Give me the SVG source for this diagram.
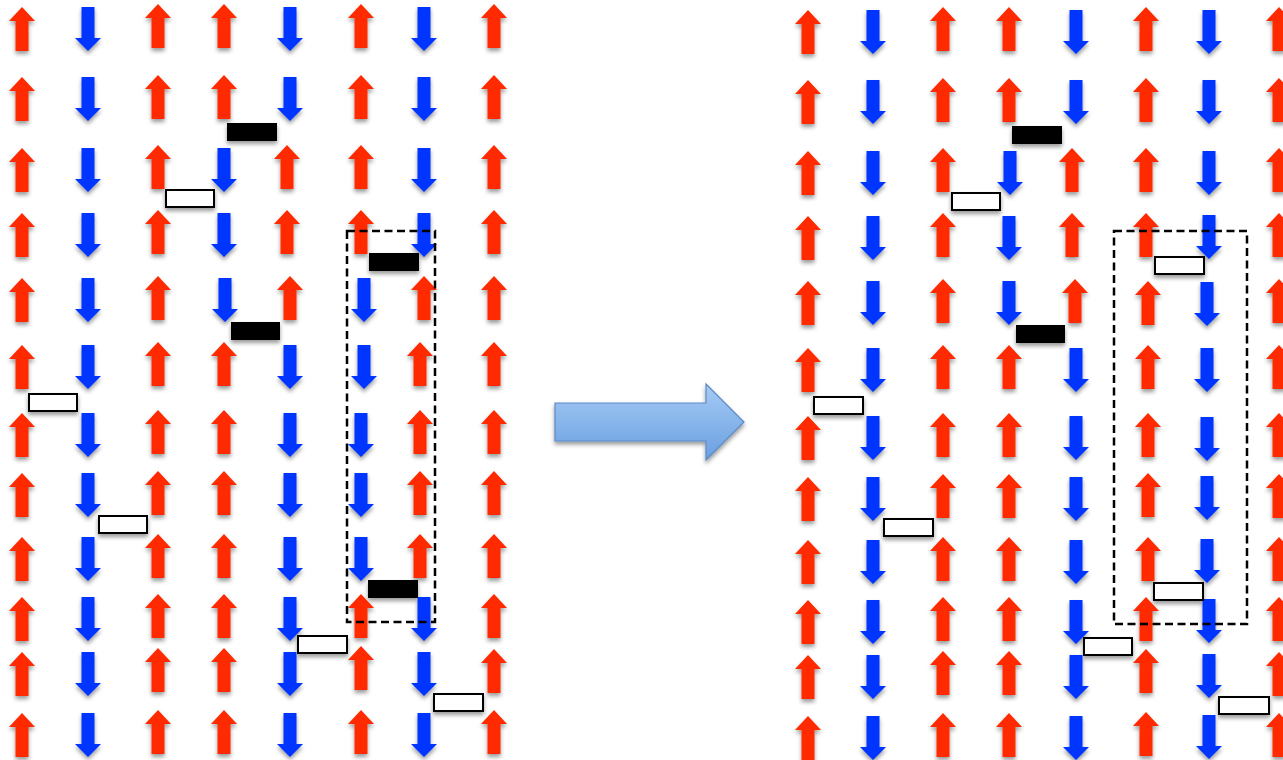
<svg xmlns="http://www.w3.org/2000/svg" xmlns:xlink="http://www.w3.org/1999/xlink" width="1283" height="760" viewBox="0 0 1283 760">
<style>
.u{fill:#ff2a00}
.d{fill:#0535ff}
.bar{fill:#000}
.open{fill:#fff;stroke:#000;stroke-width:2}
.box{fill:none;stroke:#000;stroke-width:2.5;stroke-dasharray:8 4.5}
</style>
<defs>
<filter id="sh" x="-20%" y="-20%" width="140%" height="150%">
<feDropShadow dx="0" dy="3" stdDeviation="2" flood-color="#000" flood-opacity="0.4"/>
</filter>
<path id="u" class="u" d="M0,0 L13,14 L6.5,14 L6.5,44 L-6.5,44 L-6.5,14 L-13,14 Z"/>
<path id="d" class="d" d="M-6.5,0 L6.5,0 L6.5,31 L13,31 L0,44 L-13,31 L-6.5,31 Z"/>
<linearGradient id="bg" x1="0" y1="0" x2="0" y2="1">
<stop offset="0" stop-color="#a6cbf5"/>
<stop offset="1" stop-color="#6a9fe0"/>
</linearGradient>
</defs>
<rect width="1283" height="760" fill="#fff"/>
<g id="left-panel" filter="url(#sh)">
<use href="#u" x="22" y="7"/><use href="#d" x="88" y="7"/><use href="#u" x="158" y="4"/><use href="#u" x="224" y="4"/><use href="#d" x="290" y="7"/><use href="#u" x="361" y="4"/><use href="#d" x="424" y="7"/><use href="#u" x="494" y="4"/>
<use href="#u" x="22" y="77"/><use href="#d" x="88" y="77"/><use href="#u" x="158" y="75"/><use href="#u" x="224" y="75"/><use href="#d" x="290" y="77"/><use href="#u" x="361" y="75"/><use href="#d" x="424" y="77"/><use href="#u" x="494" y="75"/>
<use href="#u" x="22" y="148"/><use href="#d" x="88" y="148"/><use href="#u" x="158" y="145"/><use href="#d" x="224" y="148"/><use href="#u" x="287" y="145"/><use href="#u" x="361" y="145"/><use href="#d" x="424" y="148"/><use href="#u" x="494" y="145"/>
<use href="#u" x="22" y="213"/><use href="#d" x="88" y="213"/><use href="#u" x="158" y="210"/><use href="#d" x="224" y="213"/><use href="#u" x="287" y="210"/><use href="#u" x="361" y="210"/><use href="#d" x="424" y="213"/><use href="#u" x="494" y="210"/>
<use href="#u" x="22" y="278"/><use href="#d" x="88" y="278"/><use href="#u" x="158" y="276"/><use href="#d" x="225" y="278"/><use href="#u" x="290" y="276"/><use href="#d" x="364" y="278"/><use href="#u" x="424" y="276"/><use href="#u" x="494" y="276"/>
<use href="#u" x="22" y="345"/><use href="#d" x="88" y="345"/><use href="#u" x="158" y="342"/><use href="#u" x="224" y="342"/><use href="#d" x="290" y="345"/><use href="#d" x="364" y="345"/><use href="#u" x="420" y="342"/><use href="#u" x="494" y="342"/>
<use href="#u" x="22" y="413"/><use href="#d" x="88" y="413"/><use href="#u" x="158" y="410"/><use href="#u" x="224" y="410"/><use href="#d" x="290" y="413"/><use href="#d" x="361" y="413"/><use href="#u" x="420" y="410"/><use href="#u" x="494" y="410"/>
<use href="#u" x="22" y="473"/><use href="#d" x="88" y="473"/><use href="#u" x="158" y="471"/><use href="#u" x="224" y="471"/><use href="#d" x="290" y="473"/><use href="#d" x="361" y="473"/><use href="#u" x="420" y="471"/><use href="#u" x="494" y="471"/>
<use href="#u" x="22" y="537"/><use href="#d" x="88" y="537"/><use href="#u" x="158" y="534"/><use href="#u" x="224" y="534"/><use href="#d" x="290" y="537"/><use href="#d" x="361" y="537"/><use href="#u" x="420" y="534"/><use href="#u" x="494" y="534"/>
<use href="#u" x="22" y="597"/><use href="#d" x="88" y="597"/><use href="#u" x="158" y="594"/><use href="#u" x="224" y="594"/><use href="#d" x="290" y="597"/><use href="#u" x="361" y="594"/><use href="#d" x="424" y="597"/><use href="#u" x="494" y="594"/>
<use href="#u" x="22" y="652"/><use href="#d" x="88" y="652"/><use href="#u" x="158" y="648"/><use href="#u" x="224" y="648"/><use href="#d" x="290" y="652"/><use href="#u" x="361" y="646"/><use href="#d" x="424" y="652"/><use href="#u" x="494" y="649"/>
<use href="#u" x="22" y="713"/><use href="#d" x="88" y="713"/><use href="#u" x="158" y="710"/><use href="#u" x="224" y="710"/><use href="#d" x="290" y="713"/><use href="#u" x="361" y="710"/><use href="#d" x="424" y="713"/><use href="#u" x="494" y="710"/>
<rect class="bar" x="227" y="123" width="50" height="18"/>
<rect class="bar" x="369" y="253" width="50" height="18"/>
<rect class="bar" x="231" y="322" width="49" height="18"/>
<rect class="bar" x="368" y="580" width="50" height="18"/>
<rect class="open" x="166" y="190" width="48" height="17"/>
<rect class="open" x="29" y="394" width="48" height="17"/>
<rect class="open" x="99" y="516" width="48" height="17"/>
<rect class="open" x="298" y="636" width="49" height="17"/>
<rect class="open" x="434" y="694" width="49" height="17"/>
</g>
<rect id="left-box" class="box" x="347" y="231" width="88" height="391"/>
<g id="transition-arrow" filter="url(#sh)">
<polygon points="555,403 706,403 706,384 744,422 706,460 706,441 555,441" fill="url(#bg)" stroke="#5a8ac6" stroke-width="1.2"/>
</g>
<g id="right-panel" filter="url(#sh)">
<use href="#u" x="808" y="10"/><use href="#d" x="873" y="10"/><use href="#u" x="943" y="7"/><use href="#u" x="1009" y="7"/><use href="#d" x="1076" y="10"/><use href="#u" x="1146" y="7"/><use href="#d" x="1209" y="10"/><use href="#u" x="1279" y="7"/>
<use href="#u" x="808" y="80"/><use href="#d" x="873" y="80"/><use href="#u" x="943" y="78"/><use href="#u" x="1009" y="78"/><use href="#d" x="1076" y="80"/><use href="#u" x="1146" y="78"/><use href="#d" x="1209" y="80"/><use href="#u" x="1279" y="78"/>
<use href="#u" x="808" y="151"/><use href="#d" x="873" y="151"/><use href="#u" x="943" y="148"/><use href="#d" x="1010" y="151"/><use href="#u" x="1072" y="148"/><use href="#u" x="1146" y="148"/><use href="#d" x="1209" y="151"/><use href="#u" x="1279" y="148"/>
<use href="#u" x="808" y="216"/><use href="#d" x="873" y="216"/><use href="#u" x="943" y="213"/><use href="#d" x="1009" y="216"/><use href="#u" x="1072" y="213"/><use href="#u" x="1146" y="213"/><use href="#d" x="1209" y="215"/><use href="#u" x="1279" y="213"/>
<use href="#u" x="808" y="281"/><use href="#d" x="873" y="281"/><use href="#u" x="943" y="279"/><use href="#d" x="1009" y="281"/><use href="#u" x="1075" y="279"/><use href="#u" x="1148" y="281"/><use href="#d" x="1207" y="282"/><use href="#u" x="1279" y="279"/>
<use href="#u" x="808" y="348"/><use href="#d" x="873" y="348"/><use href="#u" x="943" y="345"/><use href="#u" x="1009" y="345"/><use href="#d" x="1076" y="348"/><use href="#u" x="1148" y="345"/><use href="#d" x="1207" y="348"/><use href="#u" x="1279" y="345"/>
<use href="#u" x="808" y="416"/><use href="#d" x="873" y="416"/><use href="#u" x="943" y="413"/><use href="#u" x="1009" y="413"/><use href="#d" x="1076" y="416"/><use href="#u" x="1148" y="413"/><use href="#d" x="1207" y="417"/><use href="#u" x="1279" y="413"/>
<use href="#u" x="808" y="477"/><use href="#d" x="873" y="477"/><use href="#u" x="943" y="474"/><use href="#u" x="1009" y="474"/><use href="#d" x="1076" y="477"/><use href="#u" x="1148" y="473"/><use href="#d" x="1207" y="476"/><use href="#u" x="1279" y="474"/>
<use href="#u" x="808" y="540"/><use href="#d" x="873" y="540"/><use href="#u" x="943" y="537"/><use href="#u" x="1009" y="537"/><use href="#d" x="1076" y="540"/><use href="#u" x="1148" y="537"/><use href="#d" x="1207" y="539"/><use href="#u" x="1279" y="537"/>
<use href="#u" x="808" y="600"/><use href="#d" x="873" y="600"/><use href="#u" x="943" y="597"/><use href="#u" x="1009" y="597"/><use href="#d" x="1076" y="600"/><use href="#u" x="1146" y="597"/><use href="#d" x="1209" y="599"/><use href="#u" x="1279" y="597"/>
<use href="#u" x="808" y="655"/><use href="#d" x="873" y="655"/><use href="#u" x="943" y="651"/><use href="#u" x="1009" y="651"/><use href="#d" x="1076" y="655"/><use href="#u" x="1146" y="649"/><use href="#d" x="1209" y="654"/><use href="#u" x="1279" y="652"/>
<use href="#u" x="808" y="716"/><use href="#d" x="873" y="716"/><use href="#u" x="943" y="713"/><use href="#u" x="1009" y="713"/><use href="#d" x="1076" y="716"/><use href="#u" x="1146" y="712"/><use href="#d" x="1209" y="715"/><use href="#u" x="1279" y="713"/>
<rect class="bar" x="1012" y="126" width="50" height="18"/>
<rect class="bar" x="1016" y="325" width="49" height="18"/>
<rect class="open" x="952" y="193" width="48" height="17"/>
<rect class="open" x="1155" y="257" width="49" height="17"/>
<rect class="open" x="814" y="397" width="49" height="17"/>
<rect class="open" x="884" y="519" width="49" height="17"/>
<rect class="open" x="1154" y="583" width="49" height="17"/>
<rect class="open" x="1084" y="638" width="48" height="17"/>
<rect class="open" x="1219" y="697" width="50" height="17"/>
</g>
<rect id="right-box" class="box" x="1114" y="231" width="133" height="393"/>
</svg>
